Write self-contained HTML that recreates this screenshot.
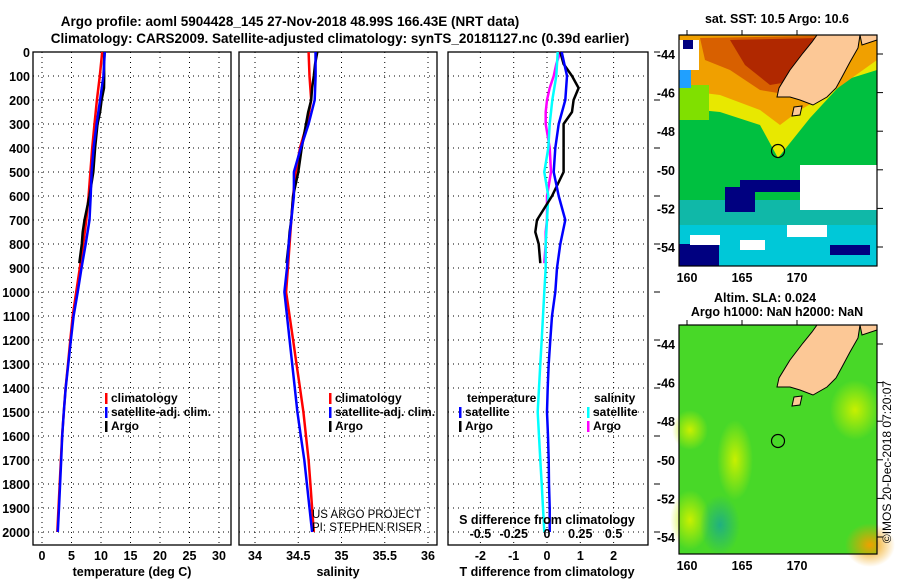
<!DOCTYPE html>
<html><head><meta charset="utf-8"><style>
html,body{margin:0;padding:0;background:#fff;}
svg{display:block;font-family:"Liberation Sans",Arial,sans-serif;font-weight:bold;}
</style></head><body>
<svg id="fig" width="900" height="580" viewBox="0 0 900 580" xmlns="http://www.w3.org/2000/svg">
<text x="290" y="26" font-size="13.5" text-anchor="middle">Argo profile: aoml 5904428_145 27-Nov-2018 48.99S 166.43E (NRT data)</text>
<text x="340" y="43" font-size="13.5" text-anchor="middle">Climatology: CARS2009. Satellite-adjusted climatology: synTS_20181127.nc (0.39d earlier)</text>
<g id="panels"></g>
<g id="maps"></g>
<text transform="translate(891,462) rotate(-90)" font-size="12" font-weight="normal" text-anchor="middle">©IMOS 20-Dec-2018 07:20:07</text>
</svg>
<script>
// ---- data (per 100 m, 0..2000 m) ----
const depths = [0,100,200,300,400,500,600,700,800,900,1000,1100,1200,1300,1400,1500,1600,1700,1800,1900,2000];
const climT = [10.2,9.8,9.3,8.9,8.5,8.2,7.9,7.5,7.0,6.4,5.8,5.2,4.8,4.4,4.0,3.7,3.4,3.2,3.0,2.8,2.6];
const climS = [34.62,34.63,34.65,34.60,34.52,34.47,34.44,34.42,34.40,34.38,34.36,34.40,34.44,34.48,34.52,34.56,34.59,34.62,34.64,34.66,34.68];
const satTdiff = [0.44,0.6,0.55,0.35,0.25,0.2,0.35,0.55,0.4,0.3,0.25,0.15,0.1,0.05,0.02,0.0,0.03,0.05,0.06,0.08,0.08];
const satSdiff = [0.08,0.07,0.04,0.02,0.01,-0.02,0.01,0.0,-0.01,-0.01,-0.02,-0.03,-0.04,-0.05,-0.06,-0.07,-0.06,-0.05,-0.04,-0.03,-0.02];
const argoDepths = [0,50,100,150,200,250,300,400,500,600,700,750,800,880];
const argoTdiff = [0.4,0.5,0.75,0.95,0.8,0.75,0.5,0.5,0.5,0.15,-0.3,-0.35,-0.25,-0.2];
const argoSdiff = [0.1,0.07,0.05,0.02,0.0,-0.01,-0.01,0.02,0.03,0.0,0.0,-0.01,-0.01,-0.02];
const depthTicks = [0,100,200,300,400,500,600,700,800,900,1000,1100,1200,1300,1400,1500,1600,1700,1800,1900,2000];
const tTicks = [0,5,10,15,20,25,30];
const sTicks = [34,34.5,35,35.5,36];
const dTTicks = [-2,-1,0,1,2];
const dSTicks = [-0.5,-0.25,0,0.25,0.5];
const latTicks = [-44,-46,-48,-50,-52,-54];
const lonTicks = [160,165,170];

const NS="http://www.w3.org/2000/svg";
const root=document.getElementById('panels');
function mk(tag,attrs,parent,txt){const e=document.createElementNS(NS,tag);for(const k in attrs)e.setAttribute(k,attrs[k]);if(txt!==undefined)e.textContent=txt;(parent||root).appendChild(e);return e;}
const yD = d => 52 + d*0.24;
const xT = t => 42 + t*5.9;
const xS = s => 255 + (s-34)*86.5;
const xDT = v => 547 + v*33.3;
const xDS = v => 547 + v*133.2;
const pTop=52,pBot=545;

function panel(x0,x1,xticks,fx,name,showDepth){
  const g=mk('g',{});
  
  
  xticks.forEach(v=>{const l=mk('line',{x1:fx(v),x2:fx(v),y1:pTop,y2:pBot,stroke:'#000','stroke-width':1,'stroke-dasharray':'1,4'},g);
    });
  depthTicks.forEach(d=>{const l=mk('line',{x1:x0,x2:x1,y1:yD(d),y2:yD(d),stroke:'#000','stroke-width':1,'stroke-dasharray':'1,4'},g);
    });
  const r=mk('rect',{x:x0,y:pTop,width:x1-x0,height:pBot-pTop,fill:'none',stroke:'#000','stroke-width':1.3},g);
  
  if(showDepth){depthTicks.forEach(d=>{const t=mk('text',{x:30,y:yD(d)+5,'font-size':12.5,'text-anchor':'end'},g,String(d));
    });}
  return g;
}
function stepLine(g,ds,vals,fx,color,w,name){
  let p='';
  for(let i=0;i<ds.length;i++){const x=fx(vals[i]).toFixed(1),y=yD(ds[i]).toFixed(1);p+=(i?' L':'M')+x+' '+y;}
  const e=mk('path',{d:p,fill:'none',stroke:color,'stroke-width':w,'stroke-linejoin':'round'},g);
  
}
function legend(g,x,y,items){
  items.forEach((it,i)=>{
    const m=mk('rect',{x:x,y:y+i*14-9,width:2.5,height:11,fill:it[1]},g);
    
    const t=mk('text',{x:x+6,y:y+i*14,'font-size':12},g,it[0]);
    
  });
}
function xlabels(g,ticks,fx,y,fmt){ticks.forEach(v=>{const t=mk('text',{x:fx(v),y:y,'font-size':12.5,'text-anchor':'middle'},g,fmt(v));
  });}

// Panel 1 temperature
const satT=climT.map((v,i)=>v+satTdiff[i]);
const argoT=argoDepths.map((d,i)=>{const k=Math.min(Math.floor(d/100),19),f=d/100-k;return climT[k]+(climT[k+1]-climT[k])*f+argoTdiff[i];});
const g1=panel(33,231,tTicks,xT,'temperature-panel',true);
stepLine(g1,depths,climT,xT,'#ff0000',2.5,'temp-climatology-line');
stepLine(g1,argoDepths,argoT,xT,'#000',2.5,'temp-argo-line');
stepLine(g1,depths,satT,xT,'#0000ff',2.5,'temp-satellite-line');
xlabels(g1,tTicks,xT,560,v=>String(v));
let t1=mk('text',{x:132,y:576,'font-size':12.5,'text-anchor':'middle'},g1,'temperature (deg C)');
legend(g1,105,402,[['climatology','#ff0000'],['satellite-adj. clim.','#0000ff'],['Argo','#000']]);

// Panel 2 salinity
const satS=climS.map((v,i)=>v+satSdiff[i]);
const argoS=argoDepths.map((d,i)=>{const k=Math.min(Math.floor(d/100),19),f=d/100-k;return climS[k]+(climS[k+1]-climS[k])*f+argoSdiff[i];});
const g2=panel(239,437,sTicks,xS,'salinity-panel',false);
stepLine(g2,depths,climS,xS,'#ff0000',2.5,'sal-climatology-line');
stepLine(g2,argoDepths,argoS,xS,'#000',2.5,'sal-argo-line');
stepLine(g2,depths,satS,xS,'#0000ff',2.5,'sal-satellite-line');
xlabels(g2,sTicks,xS,560,v=>String(v));
let t2=mk('text',{x:338,y:576,'font-size':12.5,'text-anchor':'middle'},g2,'salinity');
legend(g2,329,402,[['climatology','#ff0000'],['satellite-adj. clim.','#0000ff'],['Argo','#000']]);
let c1=mk('text',{x:312,y:518,'font-size':11.5,'font-weight':'normal'},g2,'US ARGO PROJECT');
let c2=mk('text',{x:312,y:531,'font-size':11.5,'font-weight':'normal'},g2,'PI: STEPHEN RISER');

// Panel 3 differences
const g3=panel(448,648,dTTicks,xDT,'difference-panel',false);
depthTicks.forEach(d=>{if(d%200===0){const l=mk('line',{x1:654,x2:660,y1:yD(d),y2:yD(d),stroke:'#000','stroke-width':1},g3);}});
stepLine(g3,argoDepths,argoSdiff,xDS,'#ff00ff',2.5,'sdiff-argo-line');
stepLine(g3,depths,satSdiff,xDS,'#00ffff',2.5,'sdiff-satellite-line');
stepLine(g3,argoDepths,argoTdiff,xDT,'#000',2.5,'tdiff-argo-line');
stepLine(g3,depths,satTdiff,xDT,'#0000ff',2.5,'tdiff-satellite-line');
xlabels(g3,dTTicks,xDT,560,v=>String(v));
xlabels(g3,dSTicks,xDS,538,v=>String(v));
let t3=mk('text',{x:547,y:576,'font-size':12.5,'text-anchor':'middle'},g3,'T difference from climatology');
let t4=mk('text',{x:547,y:524,'font-size':12.5,'text-anchor':'middle'},g3,'S difference from climatology');
let lt=mk('text',{x:467,y:402,'font-size':12},g3,'temperature');
legend(g3,459,416,[['satellite','#0000ff'],['Argo','#000']]);
let ls=mk('text',{x:594,y:402,'font-size':12},g3,'salinity');
legend(g3,587,416,[['satellite','#00ffff'],['Argo','#ff00ff']]);

// ---- maps ----
const mroot=document.getElementById('maps');
const mx0=679,mx1=877;
const lonX = lo => 687 + (lo-160)*11;
function landPts(dy){return [[817,35],[860,35],[862,45],[877,40],[877,35],[860,35],[858,48],[850,62],[842,77],[836,88],[827,97],[813,105],[800,100],[790,97],[777,97],[779,88],[790,70],[803,53],[812,42]].map(p=>p[0]+','+(p[1]+dy)).join(' ');}
function mapFrame(g,y0,y1,latY){
  const r=mk('rect',{x:mx0,y:y0,width:mx1-mx0,height:y1-y0,fill:'none',stroke:'#000','stroke-width':1.2},g);
  latTicks.forEach(l=>{const t=mk('text',{x:675,y:latY(l)+5,'font-size':12.5,'text-anchor':'end'},g,String(l));
    mk('line',{x1:877,x2:883,y1:latY(l),y2:latY(l),stroke:'#000'},g);});
  lonTicks.forEach(l=>{const t=mk('text',{x:lonX(l),y:y1+16,'font-size':12.5,'text-anchor':'middle'},g,String(l));
    mk('line',{x1:lonX(l),x2:lonX(l),y1:y0-5,y2:y0,stroke:'#000'},g);});
}
// top SST map
const gm1=mk('g',{},mroot);
const topY=l=>54+(-44-l)*19.3;
mk('rect',{x:mx0,y:35,width:198,height:231,fill:'#00c040'},gm1);
mk('rect',{x:mx0,y:200,width:198,height:66,fill:'#10b8a8'},gm1);
mk('rect',{x:mx0,y:225,width:198,height:41,fill:'#00c8d8'},gm1);
mk('polygon',{points:'679,35 877,35 877,70 845,80 810,118 778,158 760,125 720,112 679,108',fill:'#e8e800'},gm1);
mk('polygon',{points:'679,35 877,35 877,60 835,90 800,110 780,125 760,110 720,95 679,90',fill:'#f0a000'},gm1);
mk('polygon',{points:'700,38 860,35 820,80 790,95 760,90 730,70 705,60',fill:'#d86000'},gm1);
mk('polygon',{points:'730,40 820,38 800,80 770,85 745,65',fill:'#b02800'},gm1);
mk('rect',{x:679,y:85,width:30,height:35,fill:'#80e000'},gm1);
mk('rect',{x:679,y:40,width:20,height:30,fill:'#ffffff'},gm1);
mk('rect',{x:683,y:40,width:10,height:9,fill:'#000080'},gm1);
mk('rect',{x:800,y:165,width:77,height:45,fill:'#ffffff'},gm1);
mk('rect',{x:740,y:180,width:60,height:12,fill:'#000080'},gm1);
mk('rect',{x:725,y:187,width:30,height:25,fill:'#000080'},gm1);
mk('rect',{x:679,y:244,width:40,height:22,fill:'#000080'},gm1);
mk('rect',{x:830,y:245,width:40,height:10,fill:'#000080'},gm1);
mk('rect',{x:690,y:235,width:30,height:10,fill:'#ffffff'},gm1);
mk('rect',{x:787,y:225,width:40,height:12,fill:'#ffffff'},gm1);
mk('rect',{x:740,y:240,width:25,height:10,fill:'#ffffff'},gm1);
mk('rect',{x:679,y:70,width:12,height:18,fill:'#20a0ff'},gm1);
const land1=mk('polygon',{points:landPts(0),fill:'#fcc896',stroke:'#000','stroke-width':1},gm1);
mk('polygon',{points:'794,107 802,106 800,115 792,116',fill:'#fcc896',stroke:'#000'},gm1);
const ci1=mk('circle',{cx:778,cy:151,r:6.5,fill:'none',stroke:'#000','stroke-width':1.2},gm1);
mapFrame(gm1,35,266,topY);
let mt1=mk('text',{x:777,y:23,'font-size':12.5,'text-anchor':'middle'},gm1,'sat. SST: 10.5 Argo: 10.6');

// bottom SLA map
const gm2=mk('g',{},mroot);
const botY=l=>344+(-44-l)*19.3;
const defs=mk('defs',{},gm2);
const rg=mk('radialGradient',{id:'orng',cx:'0.5',cy:'0.5',r:'0.5'},defs);
mk('stop',{offset:'0','stop-color':'#f0a000'},rg);mk('stop',{offset:'1','stop-color':'#f0a000','stop-opacity':'0'},rg);
const rg2=mk('radialGradient',{id:'lime',cx:'0.5',cy:'0.5',r:'0.5'},defs);
mk('stop',{offset:'0','stop-color':'#c8f000'},rg2);mk('stop',{offset:'1','stop-color':'#c8f000','stop-opacity':'0'},rg2);
const rg3=mk('radialGradient',{id:'teal',cx:'0.5',cy:'0.5',r:'0.5'},defs);
mk('stop',{offset:'0','stop-color':'#20b080'},rg3);mk('stop',{offset:'1','stop-color':'#20b080','stop-opacity':'0'},rg3);
mk('rect',{x:mx0,y:325,width:198,height:229,fill:'#48d828'},gm2);
mk('ellipse',{cx:735,cy:460,rx:18,ry:40,fill:'url(#lime)'},gm2);
mk('ellipse',{cx:690,cy:430,rx:18,ry:20,fill:'url(#lime)'},gm2);
mk('ellipse',{cx:855,cy:410,rx:25,ry:30,fill:'url(#lime)'},gm2);
mk('ellipse',{cx:690,cy:520,rx:20,ry:30,fill:'url(#lime)'},gm2);
mk('ellipse',{cx:720,cy:525,rx:20,ry:30,fill:'url(#teal)'},gm2);
mk('ellipse',{cx:870,cy:545,rx:25,ry:22,fill:'url(#orng)'},gm2);
const land2=mk('polygon',{points:landPts(290),fill:'#fcc896',stroke:'#000','stroke-width':1},gm2);
mk('polygon',{points:'794,397 802,396 800,405 792,406',fill:'#fcc896',stroke:'#000'},gm2);
const ci2=mk('circle',{cx:778,cy:441,r:6.5,fill:'none',stroke:'#000','stroke-width':1.2},gm2);
mapFrame(gm2,325,554,botY);
let mt2=mk('text',{x:765,y:302,'font-size':12.5,'text-anchor':'middle'},gm2,'Altim. SLA: 0.024');
let mt3=mk('text',{x:777,y:316,'font-size':12.5,'text-anchor':'middle'},gm2,'Argo h1000: NaN h2000: NaN');
</script>
</body></html>
